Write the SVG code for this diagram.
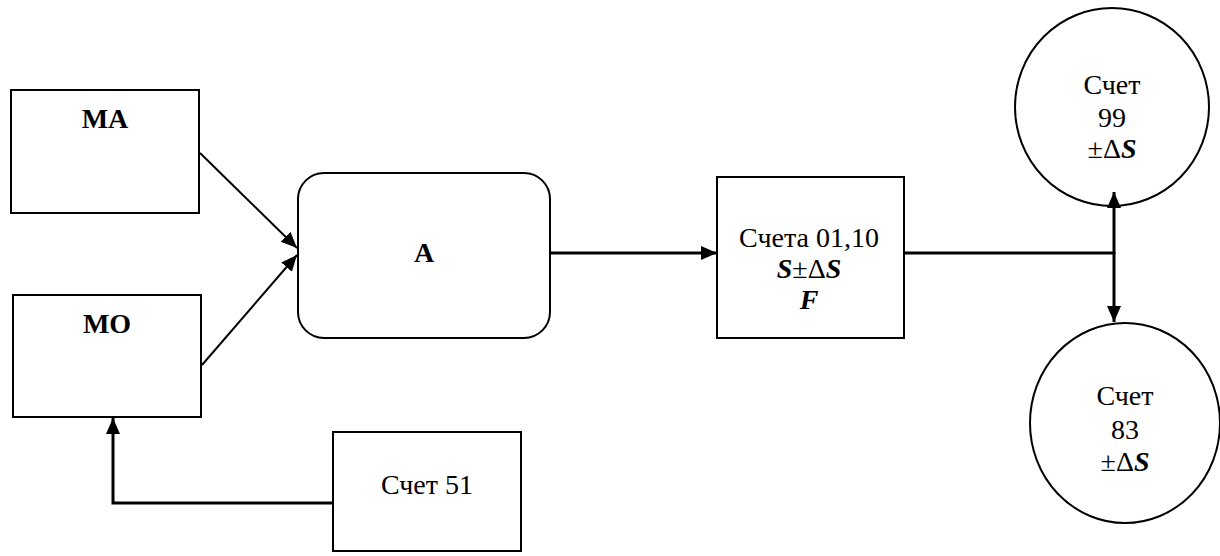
<svg xmlns="http://www.w3.org/2000/svg" width="1220" height="556" viewBox="0 0 1220 556">
<style>
.box{fill:#fff;stroke:#000;stroke-width:2}
.t{font-family:"Liberation Serif","Times New Roman",serif;font-size:28px;fill:#000;text-anchor:middle}
.b{font-weight:bold}
.bi{font-weight:bold;font-style:italic}
.thin{fill:none;stroke:#000;stroke-width:2}
.thick{fill:none;stroke:#000;stroke-width:3}
</style>
<defs>
<marker id="ah" markerUnits="userSpaceOnUse" markerWidth="18" markerHeight="16" refX="16" refY="7" orient="auto">
<path d="M0,0 L16,7 L0,14 Z" fill="#000"/>
</marker>
</defs>
<rect width="1220" height="556" fill="#fff"/>
<g id="MA">
<rect class="box" x="11" y="90" width="188" height="123"/>
<text class="t b" x="105" y="128">MA</text>
</g>
<g id="MO">
<rect class="box" x="13" y="295" width="188" height="122"/>
<text class="t b" x="107" y="333">MO</text>
</g>
<g id="A">
<rect class="box" x="298" y="173" width="252" height="165" rx="26" ry="26"/>
<text class="t b" x="424" y="262">A</text>
</g>
<g id="scheta">
<rect class="box" x="717" y="177" width="187" height="161"/>
<text class="t" x="809" y="247">Счета 01,10</text>
<text class="t" x="809" y="278"><tspan class="bi">S</tspan>±Δ<tspan class="bi">S</tspan></text>
<text class="t bi" x="809" y="309">F</text>
</g>
<g id="schet51">
<rect class="box" x="333" y="432" width="188" height="119"/>
<text class="t" x="427" y="494">Счет 51</text>
</g>
<g id="schet99">
<ellipse class="box" cx="1112" cy="107" rx="97" ry="99"/>
<text class="t" x="1112" y="94">Счет</text>
<text class="t" x="1112" y="127">99</text>
<text class="t" x="1112" y="158">±Δ<tspan class="bi">S</tspan></text>
</g>
<g id="schet83">
<ellipse class="box" cx="1125" cy="423" rx="95" ry="100"/>
<text class="t" x="1125" y="405">Счет</text>
<text class="t" x="1125" y="439">83</text>
<text class="t" x="1125" y="471">±Δ<tspan class="bi">S</tspan></text>
</g>
<g id="connectors">
<line class="thin" x1="200" y1="153" x2="297" y2="248" marker-end="url(#ah)"/>
<line class="thin" x1="202" y1="365" x2="297" y2="255" marker-end="url(#ah)"/>
<line class="thick" x1="550" y1="253" x2="717" y2="253" marker-end="url(#ah)"/>
<line class="thick" x1="904" y1="253" x2="1114" y2="253"/>
<line class="thick" x1="1114" y1="254" x2="1114" y2="192" marker-end="url(#ah)"/>
<line class="thick" x1="1114" y1="252" x2="1114" y2="322" marker-end="url(#ah)"/>
<polyline class="thick" points="333,503 113,503 113,418" marker-end="url(#ah)"/>
</g>
</svg>
